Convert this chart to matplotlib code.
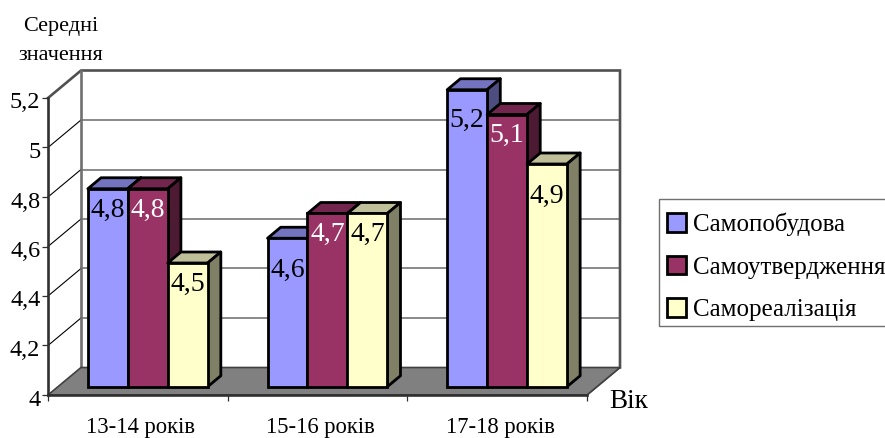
import matplotlib
matplotlib.use("Agg")
import matplotlib.pyplot as plt
from matplotlib.patches import Polygon, Patch, Rectangle
from matplotlib.transforms import ScaledTranslation

plt.rcParams['font.family'] = ['Liberation Serif', 'DejaVu Serif']

categories = ['13-14 років', '15-16 років', '17-18 років']
series_names = ['Самопобудова', 'Самоутвердження', 'Самореалізація']
samopobudova = [4.8, 4.6, 5.2]
samoutverdzhennia = [4.8, 4.7, 5.1]
samorealizatsiia = [4.5, 4.7, 4.9]
y_ticks = [4, 4.2, 4.4, 4.6, 4.8, 5, 5.2]
y_labels = ['4', '4,2', '4,4', '4,6', '4,8', '5', '5,2']

# layout (pixels of the figure)
W, H = 885, 438
L, R, T, B = 48, 587, 98, 395
WALL_DX, WALL_DY = 33, 27.5
Y0, Y1 = 4, 5.2
fig = plt.figure(figsize=(W / 100, H / 100), dpi=100, facecolor='white')
ax = fig.add_axes([L / W, 1 - B / H, (R - L) / W, (B - T) / H])
ax.set_xlim(0, len(categories))
ax.set_ylim(Y0, Y1)
ax.patch.set_alpha(0)
sx = len(categories) / (R - L)      # data x per pixel
sy = (Y1 - Y0) / (B - T)            # data y per pixel
ddx, ddy = WALL_DX * sx, WALL_DY * sy
nc = len(categories)


def shift(x, y, z):
    return (x + z * ddx, y + z * ddy)


def poly(pts, fc, ec='none', lw=0, z=1):
    ax.add_patch(Polygon(pts, closed=True, facecolor=fc, edgecolor=ec, linewidth=lw,
                         zorder=z, clip_on=False, joinstyle='round'))


# walls and floor
poly([shift(0, Y0, 1), shift(nc, Y0, 1), shift(nc, Y1, 1), shift(0, Y1, 1)], 'white', z=0.5)
poly([(0, Y0), shift(0, Y0, 1), shift(nc, Y0, 1), (nc, Y0)], '#808080', ec='#404040', lw=1.2, z=0.8)
for v in y_ticks[1:-1]:
    ax.plot(*zip(shift(0, v, 1), shift(nc, v, 1)), color='#808080', lw=1.3, zorder=0.7, clip_on=False)
    ax.plot(*zip((0, v), shift(0, v, 1)), color='black', lw=0.8, zorder=0.7, clip_on=False)
ax.plot(*zip((0, Y1), shift(0, Y1, 1), shift(nc, Y1, 1), shift(nc, Y0, 1)), color='#505050', lw=1.9,
        zorder=0.75, clip_on=False, solid_joinstyle='miter')
ax.plot(*zip(shift(0, Y0, 1), shift(0, Y1, 1)), color='#707070', lw=1.9, zorder=0.75, clip_on=False)
ax.plot(*zip(shift(nc, Y0, 1), (nc, Y0)), color='#606060', lw=1.2, zorder=0.75, clip_on=False)

# bars
values = [samopobudova, samoutverdzhennia, samorealizatsiia]
face = ['#9999FF', '#993366', '#FFFFCC']
top = ['#7373BF', '#73264D', '#BFBF99']
side = ['#4D4D80', '#4D1A33', '#808066']
text_col = ['black', 'white', 'black']
gap_bars = 1.5
bw = 1 / (3 + gap_bars)
z_front, z_back = 0.30, 0.70
label_drop = [[22, 32, 31], [22, 21, 21], [21, 21, 32]]   # pixels below the bar top
EDGE = 2.0
for c in range(nc):
    for s in range(3):
        v = values[s][c]
        x0 = c + gap_bars / 2 * bw + s * bw
        x1 = x0 + bw
        zb = 10 + c * 10 + s
        b0 = Y0 + z_front * ddy
        sh = z_front * ddx
        poly([shift(x0, v, z_front), shift(x1, v, z_front),
              shift(x1, v, z_back), shift(x0, v, z_back)],
             top[s], ec='black', lw=EDGE, z=zb)
        poly([shift(x1, Y0, z_front), shift(x1, Y0, z_back),
              shift(x1, v, z_back), shift(x1, v, z_front)],
             side[s], ec='black', lw=EDGE, z=zb)
        ax.bar(x0 + sh, v - Y0, width=bw, bottom=b0, align='edge', color=face[s], edgecolor='black',
               linewidth=EDGE, zorder=zb + 0.1, clip_on=False)
        ax.text((x0 + x1) / 2 + sh, v + z_front * ddy - label_drop[s][c] * sy,
                f'{v}'.replace('.', ','), ha='center', va='center', fontsize=20,
                color=text_col[s], zorder=60)

# axes
for sp in ('top', 'right'):
    ax.spines[sp].set_visible(False)
for sp in ('left', 'bottom'):
    ax.spines[sp].set_linewidth(1.9)
    ax.spines[sp].set_color('#303030')
    ax.spines[sp].set_zorder(5)
ax.set_yticks(y_ticks, y_labels, fontsize=17.5)
ax.set_xticks(range(nc + 1), [''] * (nc + 1))
ax.tick_params(axis='both', length=4, width=0.9, color='#303030')
ax.tick_params(axis='y', pad=1.5)
down = ScaledTranslation(0, -2.5 / 100, fig.dpi_scale_trans)
for lab in ax.get_yticklabels():
    lab.set_transform(lab.get_transform() + down)
for c, name in enumerate(categories):
    ax.annotate(name, xy=(c + 0.5, Y0), xycoords='data', xytext=(2.2, -33 * 0.72), textcoords='offset points',
                ha='center', va='center', fontsize=16.3)

# titles
fig.text(60.5 / W, 1 - 27 / H, 'Середні', ha='center', va='center', fontsize=16)
fig.text(60.5 / W, 1 - 56 / H, 'значення', ha='center', va='center', fontsize=16)
fig.text(629 / W, 1 - 401 / H, 'Вік', ha='center', va='center', fontsize=19.5)

# legend
fig.add_artist(Rectangle((659 / W, 1 - 326 / H), 240 / W, 127 / H, transform=fig.transFigure,
                         facecolor='white', edgecolor='#707070', linewidth=1.0, zorder=2))
handles = [Patch(facecolor=face[i], edgecolor='black', linewidth=EDGE, label=series_names[i]) for i in range(3)]
leg = fig.legend(handles=handles, loc='lower left', bbox_to_anchor=(667 / W, 1 - 321 / H),
                 fontsize=18, frameon=False,
                 borderaxespad=0, borderpad=0, labelspacing=0.78,
                 handlelength=0.76, handleheight=0.76, handletextpad=0.28)
leg.set_zorder(3)

fig.savefig('out.png', dpi=100)
